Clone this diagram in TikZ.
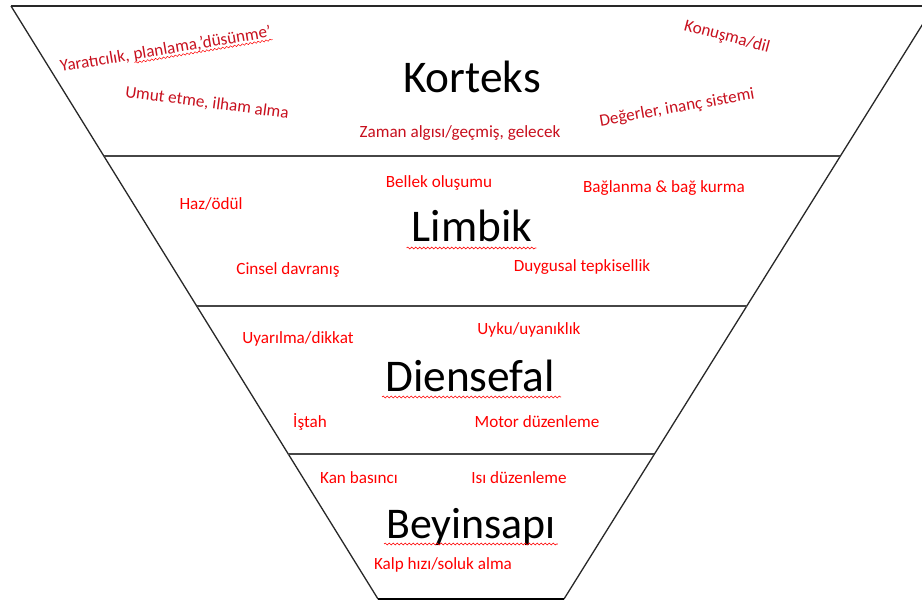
\documentclass[tikz,border=0pt]{standalone}
\usepackage{fontspec}
\setmainfont{Carlito}
\usetikzlibrary{calc,decorations.pathmorphing}
\definecolor{dred}{RGB}{200,16,30}
\definecolor{bred}{RGB}{255,0,0}
\definecolor{edge}{RGB}{40,40,40}
\definecolor{divc}{RGB}{70,70,70}
\tikzset{
  big/.style={font=\fontsize{45.5}{45.5}\selectfont, text=black, inner sep=0pt, anchor=base},
  lblk/.style={font=\fontsize{17.2}{17.2}\selectfont, text=dred, inner sep=0pt},
  lbl/.style={font=\fontsize{17.2}{17.2}\selectfont, text=bred, inner sep=0pt},
  wavy/.style={draw=bred, line width=0.6bp, decorate, decoration={snake, segment length=4bp, amplitude=0.9bp}},
  outline/.style={draw=edge, line width=1.3bp},
  divider/.style={draw=divc, line width=1.6bp},
}
\begin{document}
\begin{tikzpicture}[x=1bp,y=-1bp]
\useasboundingbox (0,0) rectangle (922,602);
\clip (0,0) rectangle (922,602);
\fill[white] (0,0) rectangle (922,602);
% funnel
\coordinate (TL) at (11,6);
\coordinate (TR) at (934,6);
\coordinate (BL) at (378,599);
\coordinate (BR) at (564,599);
\draw[outline] (TL) -- (BL);
\draw[outline] (TR) -- (BR);
\draw[draw=edge, line width=1.5bp] (TL) -- (TR);
\draw[draw=black, line width=2.6bp] (BL) -- (BR);
\draw[divider] ($(TL)!0.253!(BL)$) -- ($(TR)!0.253!(BR)$);
\draw[divider] ($(TL)!0.506!(BL)$) -- ($(TR)!0.506!(BR)$);
\draw[divider] ($(TL)!0.7555!(BL)$) -- ($(TR)!0.7555!(BR)$);
% level titles
\node[big] (kor) at (472,93) {Korteks};
\node[big] (lim) at (472,242) {Limbik};
\node[big] (die) at (470,391) {Diensefal};
\node[big, font=\fontsize{44}{44}\selectfont] (bey) at (471,538) {Beyinsapı};
\draw[wavy] ($(lim.base west)+(-5,6)$) -- ($(lim.base east)+(4,6)$);
\draw[wavy] ($(die.base west)+(-3,6)$) -- ($(die.base east)+(6,6)$);
\draw[wavy] ($(bey.base west)+(-2,6)$) -- ($(bey.base east)+(2,6)$);
% Korteks labels
\begin{scope}[shift={(61,72)}, rotate=9.5, transform shape]
  \node[lblk, anchor=base west] (yar1) at (0,0) {Yaratıcılık,};
  \node[lblk, anchor=base west, xshift=4bp] (yar2) at (yar1.base east) {planlama,’düsünme’};
\end{scope}
\draw[wavy, line width=0.5bp] ($(yar2.base west)!3bp!-90:(yar2.base east)$) -- ($(yar2.base east)!3bp!90:(yar2.base west)$);
\node[lblk, rotate=-7.5] (umu) at (207,103) {Umut etme, ilham alma};
\node[lblk] (zam) at (460,133) {Zaman algısı/geçmiş, gelecek};
\node[lblk, rotate=-15] (kon) at (727,37) {Konuşma/dil};
\node[lblk, rotate=10] (deg) at (677,108) {Değerler, inanç sistemi};
% Limbik labels
\node[lbl] (haz) at (211,204) {Haz/ödül};
\node[lbl] (bel) at (439,183) {Bellek oluşumu};
\node[lbl] (bag) at (664,188) {Bağlanma \& bağ kurma};
\node[lbl] (cin) at (288,270) {Cinsel davranış};
\node[lbl] (duy) at (582,267) {Duygusal tepkisellik};
% Diensefal labels
\node[lbl] (uya) at (298,339) {Uyarılma/dikkat};
\node[lbl] (uyk) at (529,330) {Uyku/uyanıklık};
\node[lbl] (ist) at (310,422) {İştah};
\node[lbl] (mot) at (537,422) {Motor düzenleme};
% Beyinsapi labels
\node[lbl] (kan) at (359,478) {Kan basıncı};
\node[lbl] (isi) at (519,478) {Isı düzenleme};
\node[lbl] (kal) at (443,565) {Kalp hızı/soluk alma};
\end{tikzpicture}
\end{document}
